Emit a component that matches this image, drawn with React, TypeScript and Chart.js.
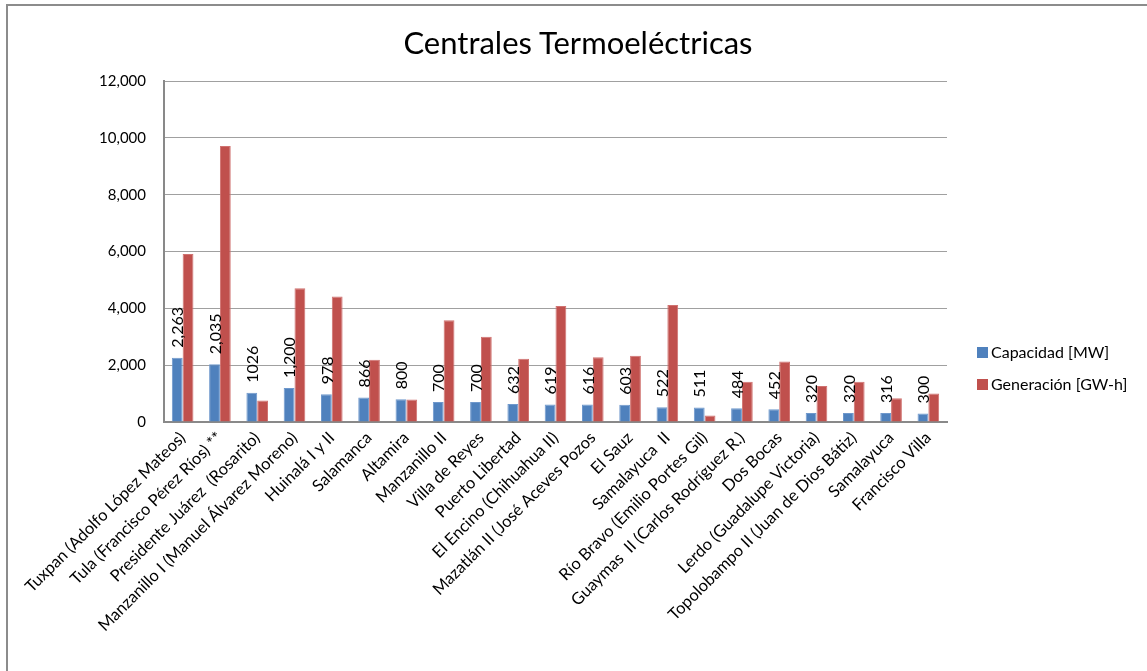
import React, { useEffect, useRef } from 'react';
import { Chart, registerables } from 'chart.js';

Chart.register(...registerables);

const titleText = 'Centrales Termoeléctricas';

const categories = [
  'Tuxpan (Adolfo López Mateos)',
  'Tula (Francisco Pérez Ríos) **',
  'Presidente Juárez  (Rosarito)',
  'Manzanillo I (Manuel Álvarez Moreno)',
  'Huinalá I y II',
  'Salamanca',
  'Altamira',
  'Manzanillo II',
  'Villa de Reyes',
  'Puerto Libertad',
  'El Encino (Chihuahua II)',
  'Mazatlán II (José Aceves Pozos',
  'El Sauz',
  'Samalayuca  II',
  'Río Bravo (Emilio Portes Gil)',
  'Guaymas  II (Carlos Rodríguez R.)',
  'Dos Bocas',
  'Lerdo (Guadalupe Victoria)',
  'Topolobampo II (Juan de Dios Bátiz)',
  'Samalayuca',
  'Francisco Villa',
];

const capacidad = [2263, 2035, 1026, 1200, 978, 866, 800, 700, 700, 632, 619, 616, 603, 522, 511, 484, 452, 320, 320, 316, 300];
const capacidadLabels = ['2,263', '2,035', '1026', '1,200', '978', '866', '800', '700', '700', '632', '619', '616', '603', '522', '511', '484', '452', '320', '320', '316', '300'];
const generacion = [5910, 9710, 760, 4710, 4420, 2190, 790, 3580, 3000, 2230, 4080, 2280, 2330, 4120, 230, 1420, 2130, 1270, 1420, 840, 1000];

const yTicks = [0, 2000, 4000, 6000, 8000, 10000, 12000];

const seriesNames = ['Capacidad [MW]', 'Generación [GW-h]'];
const seriesColors = ['#4F81BD', '#C0504D'];
const seriesBorders = ['#6F98CC', '#D07270'];

const FONT = 'Lato, "Open Sans", sans-serif';

const rotatedLabels = {
  id: 'rotatedLabels',
  afterDatasetsDraw(chart: any) {
    const meta = chart.getDatasetMeta(0);
    const ctx = chart.ctx;
    ctx.save();
    ctx.font = `16px ${FONT}`;
    ctx.fillStyle = '#000';
    ctx.textAlign = 'left';
    ctx.textBaseline = 'middle';
    meta.data.forEach((bar: any, i: number) => {
      ctx.save();
      ctx.translate(bar.x + 1, bar.y - 10);
      ctx.rotate(-Math.PI / 2);
      ctx.fillText(capacidadLabels[i], 0, 0);
      ctx.restore();
    });
    ctx.restore();
  },
};

export default function App() {
  const ref = useRef<HTMLCanvasElement | null>(null);

  useEffect(() => {
    document.body.style.margin = '0';
    const canvas = ref.current;
    if (!canvas) return;
    const chart = new Chart(canvas, {
      type: 'bar',
      data: {
        labels: categories,
        datasets: [
          {
            label: seriesNames[0],
            data: capacidad,
            backgroundColor: seriesColors[0],
            borderColor: seriesBorders[0],
            borderWidth: 1,
            categoryPercentage: 0.58,
            barPercentage: 1,
          },
          {
            label: seriesNames[1],
            data: generacion,
            backgroundColor: seriesColors[1],
            borderColor: seriesBorders[1],
            borderWidth: 1,
            categoryPercentage: 0.58,
            barPercentage: 1,
          },
        ],
      },
      options: {
        responsive: false,
        animation: false,
        layout: { padding: { left: 0, right: 200, top: 81, bottom: 0 } },
        plugins: {
          legend: { display: false },
          tooltip: { enabled: false },
          title: { display: false },
        },
        scales: {
          x: {
            grid: { display: false, drawTicks: false },
            border: { color: '#898989', width: 2 },
            ticks: {
              color: '#000',
              font: { family: FONT, size: 16.5 },
              minRotation: 45,
              maxRotation: 45,
              autoSkip: false,
              padding: 6,
            },
            afterFit: (scale: any) => {
              scale.height = 249;
            },
          },
          y: {
            min: 0,
            max: 12000,
            afterBuildTicks: (scale: any) => {
              scale.ticks = yTicks.map((v) => ({ value: v }));
            },
            grid: { color: '#A0A0A0', lineWidth: 1, drawTicks: false },
            border: { color: '#898989', width: 2 },
            ticks: {
              color: '#000',
              font: { family: FONT, size: 15 },
              padding: 18,
              callback: (v: any) => Number(v).toLocaleString('en-US'),
            },
            afterFit: (scale: any) => {
              scale.width = 164;
            },
          },
        },
      },
      plugins: [rotatedLabels],
    });
    return () => chart.destroy();
  }, []);

  const legendItem = (i: number, top: number) => (
    <div
      key={i}
      style={{
        position: 'absolute',
        left: 977,
        top,
        display: 'flex',
        alignItems: 'center',
        fontFamily: FONT,
        fontSize: 16,
        color: '#000',
        whiteSpace: 'nowrap',
        lineHeight: '18px',
      }}
    >
      <span style={{ display: 'inline-block', width: 11, height: 11, background: seriesColors[i], marginRight: 3 }} />
      <span>{seriesNames[i]}</span>
    </div>
  );

  return (
    <div style={{ position: 'relative', width: 1147, height: 671, overflow: 'hidden', background: '#fff' }}>
      <div
        style={{
          position: 'absolute',
          left: 6,
          top: 4,
          right: -10,
          bottom: -10,
          borderLeft: '2px solid #8C8C8C',
          borderTop: '2px solid #8C8C8C',
        }}
      />
      <canvas ref={ref} width={1147} height={671} style={{ position: 'absolute', left: 0, top: 0 }} />
      <div
        style={{
          position: 'absolute',
          left: 378,
          width: 400,
          top: 22,
          height: 40,
          lineHeight: '40px',
          textAlign: 'center',
          fontFamily: FONT,
          fontSize: 31,
          color: '#000',
          whiteSpace: 'nowrap',
        }}
      >
        {titleText}
      </div>
      {legendItem(0, 343)}
      {legendItem(1, 375)}
    </div>
  );
}
